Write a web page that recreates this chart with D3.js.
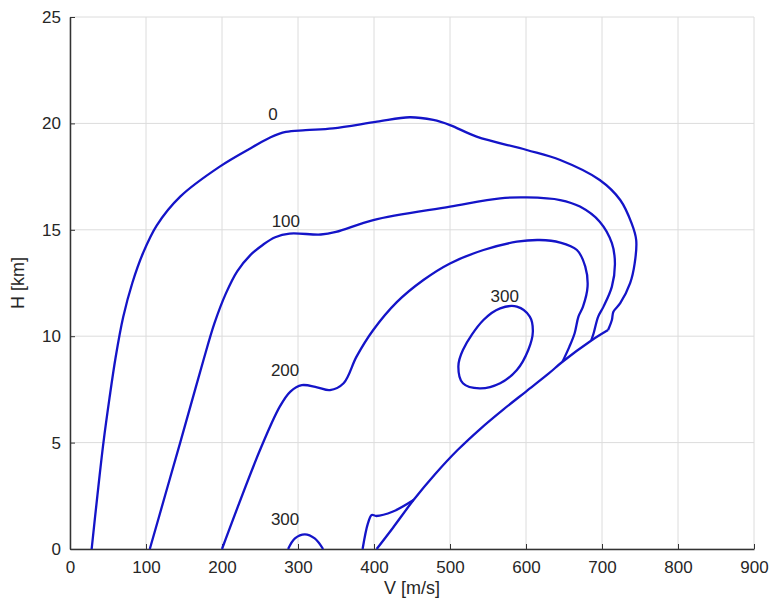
<!DOCTYPE html>
<html>
<head>
<meta charset="utf-8">
<script src="https://cdn.jsdelivr.net/npm/d3@7"></script>
<style>
  body { margin: 0; background: #fff; }
  text { font-family: "Liberation Sans", Arial, sans-serif; fill: #262626; }
</style>
</head>
<body>
<svg id="chart"></svg>
<script>
// contour lines, [V m/s, H km]
const ps0 = [[28.5,0],[36,2.5],[44,5],[52,7.1],[60,9],[70,10.9],[82,12.5],[96,13.9],[114,15.2],[145,16.56],[197,17.97],[241,18.9],[264,19.35],[284,19.6],[310,19.68],[346,19.77],[404,20.08],[447,20.29],[478,20.16],[500,19.92],[535,19.38],[601,18.75],[645,18.28],[697,17.34],[724,16.4],[739,15.3],[745,14.52],[743,13.42],[737,12.49],[724,11.55],[715,11.15],[713,10.76],[708,10.29]]
const ps100 = [[105,0],[125,2.5],[145,5],[160,6.9],[175,8.8],[190,10.6],[205,12],[220,13.05],[237,13.8],[254,14.3],[270,14.65],[289,14.82],[330,14.78],[350,14.9],[399,15.46],[500,16.09],[566,16.48],[601,16.52],[645,16.4],[671,16.09],[697,15.38],[713,14.37],[717,13.42],[713,12.33],[702,11.39],[695,10.92],[689,10.14],[686,9.82]]
const ps200 = [[200,0],[250,4.65],[276,6.69],[290,7.4],[305,7.7],[325,7.6],[342,7.47],[360,7.79],[377,9.04],[399,10.29],[430,11.6],[465,12.64],[500,13.42],[544,14.05],[588,14.44],[618,14.52],[645,14.4],[667,14.05],[678,13.27],[681,12.33],[675,11.39],[669,10.92],[664,10.14],[657,9.5],[648,8.8]]
const ps200low = [[385,0],[392,1.2],[397,1.6],[403,1.55],[425,1.76],[452,2.3]]
const ps300low = [[287,0],[296,0.5],[309,0.69],[322,0.5],[333,0]]
const ps300loop = [[588,11.39],[605,10.92],[609,10.21],[603,9.35],[588,8.41],[566,7.79],[539,7.55],[517,7.79],[511,8.57],[517,9.35],[544,10.76],[566,11.31]]
const boundary = [[403.5,0],[425,1.0],[452,2.3],[480,3.5],[510,4.65],[540,5.65],[570,6.55],[600,7.4],[630,8.25],[648,8.8],[686,9.8],[708,10.29]]

const labels = [
  {text: '0', v: 267, h: 20.44},
  {text: '100', v: 284, h: 15.43},
  {text: '200', v: 283, h: 8.41},
  {text: '300', v: 283, h: 1.4},
  {text: '300', v: 572, h: 11.9}
]

const xTicks = [0, 100, 200, 300, 400, 500, 600, 700, 800, 900]
const yTicks = [0, 5, 10, 15, 20, 25]

const width = 774
const height = 605
const margin = {left: 70, top: 17, right: 20, bottom: 56}

const svg = d3.select('#chart')
  .attr('width', width)
  .attr('height', height)

const x = d3.scaleLinear().domain([0, 900]).range([margin.left, width - margin.right])
const y = d3.scaleLinear().domain([0, 25]).range([height - margin.bottom, margin.top])

// grid
const grid = svg.append('g').attr('stroke', '#dcdcdc').attr('stroke-width', 1)
grid.selectAll('.gx').data(xTicks).enter().append('line')
  .attr('x1', d => x(d)).attr('x2', d => x(d))
  .attr('y1', y(0)).attr('y2', y(25))
grid.selectAll('.gy').data(yTicks).enter().append('line')
  .attr('x1', x(0)).attr('x2', x(900))
  .attr('y1', d => y(d)).attr('y2', d => y(d))

// axes
const xAxis = svg.append('g')
  .attr('transform', `translate(0,${y(0)})`)
  .call(d3.axisBottom(x).tickValues(xTicks).tickSizeInner(-5).tickSizeOuter(0).tickPadding(12))
const yAxis = svg.append('g')
  .attr('transform', `translate(${x(0)},0)`)
  .call(d3.axisLeft(y).tickValues(yTicks).tickSizeInner(-5).tickSizeOuter(0).tickPadding(9))

for (const ax of [xAxis, yAxis]) {
  ax.select('.domain').attr('stroke', '#333').attr('stroke-width', 1.5)
  ax.selectAll('.tick line').attr('stroke', '#333')
  ax.selectAll('.tick text').attr('font-size', 17).attr('fill', '#262626')
    .attr('font-family', '"Liberation Sans", Arial, sans-serif')
}

svg.append('text')
  .attr('x', (x(0) + x(900)) / 2)
  .attr('y', 594)
  .attr('text-anchor', 'middle')
  .attr('font-size', 18)
  .text('V [m/s]')

svg.append('text')
  .attr('transform', `translate(24,${(y(0) + y(25)) / 2}) rotate(-90)`)
  .attr('text-anchor', 'middle')
  .attr('font-size', 18)
  .text('H [km]')

// contours
const line = d3.line().x(d => x(d[0])).y(d => y(d[1])).curve(d3.curveCatmullRom.alpha(0.5))
const loop = d3.line().x(d => x(d[0])).y(d => y(d[1])).curve(d3.curveCatmullRomClosed.alpha(0.5))

const g = svg.append('g')
  .attr('fill', 'none')
  .attr('stroke', '#1414c8')
  .attr('stroke-width', 2.3)
  .attr('stroke-linejoin', 'round')

for (const c of [ps0, ps100, ps200, ps200low, ps300low, boundary]) {
  g.append('path').attr('d', line(c))
}
g.append('path').attr('d', loop(ps300loop))

svg.append('g').selectAll('text').data(labels).enter().append('text')
  .attr('x', d => x(d.v))
  .attr('y', d => y(d.h))
  .attr('dy', '0.35em')
  .attr('text-anchor', 'middle')
  .attr('font-size', 17)
  .text(d => d.text)
</script>
</body>
</html>
